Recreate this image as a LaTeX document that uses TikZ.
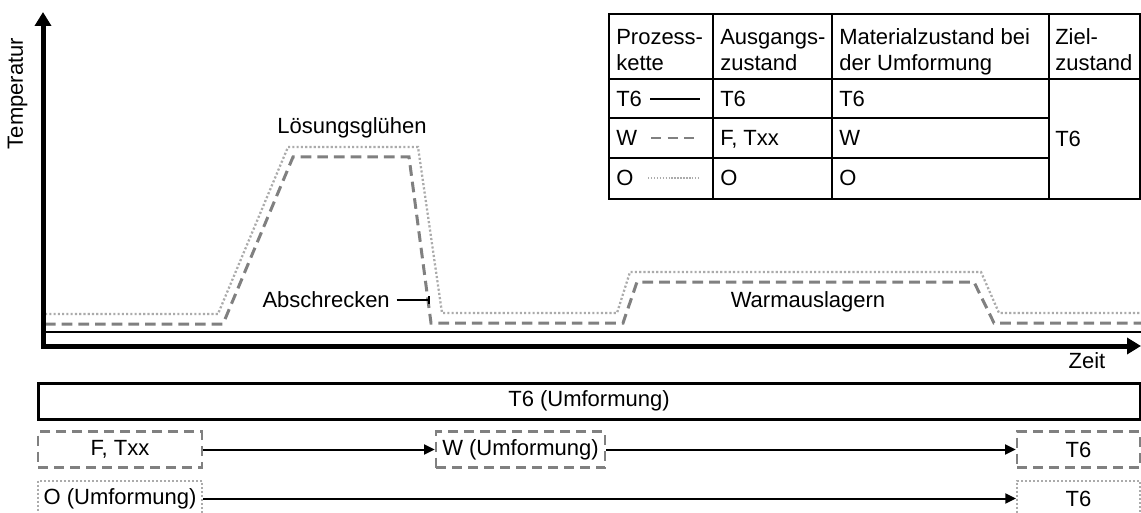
\documentclass[tikz,border=0pt]{standalone}
\usepackage{fontspec}
\setmainfont{Liberation Sans}
\usetikzlibrary{arrows.meta}
\definecolor{dgray}{HTML}{808080}
\definecolor{lgray}{HTML}{ABABAB}
\begin{document}
\begin{tikzpicture}[x=0.75pt,y=-0.75pt,
  font=\fontsize{16.5}{19.5}\selectfont,
  wline/.style={dgray, line width=2.25pt, dash pattern=on 8pt off 4.5pt},
  oline/.style={lgray, line width=1.7pt, dash pattern=on 1.6pt off 1.6pt},
  tline/.style={black, line width=2pt},
  axisline/.style={line width=3.75pt,
    {Triangle[length=10.5pt,width=12pt]}-{Triangle[length=10.5pt,width=12pt]}},
  box/.style={draw, inner sep=0pt, minimum height=27pt, align=center},
  tbox/.style={box, line width=2.25pt},
  dbox/.style={box, draw=dgray, text=black, line width=1.9pt, dash pattern=on 7.5pt off 4.5pt},
  obox/.style={box, draw=lgray, text=black, line width=1.5pt, dash pattern=on 1.5pt off 1.5pt},
  arr/.style={line width=1.5pt, -{Triangle[length=8pt,width=7.5pt]}},
  cell/.style={anchor=base west, inner sep=0pt},
  gridline/.style={line width=1.1pt},
  lbl/.style={inner sep=0pt}
]
\useasboundingbox (0,0) rectangle (1141,513);
\clip (0,0) rectangle (1141,513);

% process curves
\draw[tline] (45,332) -- (1141,332);
\draw[wline] (45,324) -- (223,324) -- (293,157) -- (409,157) -- (431,323) -- (623,323)
  -- (637,282) -- (974,282) -- (994,323) -- (1141,323);
\draw[oline] (45,314) -- (218,314) -- (288,147) -- (418,147) -- (442,313) -- (617,313)
  -- (630,272) -- (981,272) -- (999,313) -- (1141,313);

% axes
\draw[axisline] (43,12) -- (43,346) -- (1141,346);
\node[lbl, rotate=90] (temp) at (17.5,93.5) {Temperatur};
\node[lbl] (zeit) at (1087,361) {Zeit};

% curve labels
\node[lbl] (loes) at (352,128) {Lösungsglühen};
\node[lbl, anchor=east] (abs) at (390,300) {Abschrecken};
\coordinate (absend) at (429,300);
\draw[line width=1.1pt] ([xshift=5pt]abs.east) -- (absend);
\draw[line width=1.1pt] ([yshift=3pt]absend) -- ([yshift=-3pt]absend);
\node[lbl] (warm) at (808,302) {Warmauslagern};

% table
\draw[gridline] (609,14) rectangle (1140,199);
\draw[gridline] (713,14) -- (713,199) (832,14) -- (832,199) (1049,14) -- (1049,199);
\draw[gridline] (609,79) -- (1140,79) (609,118) -- (1049,118) (609,158) -- (1049,158);
\node[cell] (h1a) at (616,45) {Prozess-};
\node[cell] (h1b) at (616,71) {kette};
\node[cell] (h2a) at (720,45) {Ausgangs-};
\node[cell] (h2b) at (720,71) {zustand};
\node[cell] (h3a) at (839,45) {Materialzustand bei};
\node[cell] (h3b) at (839,71) {der Umformung};
\node[cell] (h4a) at (1055,45) {Ziel-};
\node[cell] (h4b) at (1055,71) {zustand};
\node[cell] (r1a) at (616,107) {T6};
\node[cell] (r1b) at (720,107) {T6};
\node[cell] (r1c) at (839,107) {T6};
\node[cell] (r2a) at (616,146) {W};
\node[cell] (r2b) at (720,146) {F, Txx};
\node[cell] (r2c) at (839,146) {W};
\node[cell] (r3a) at (616,186) {O};
\node[cell] (r3b) at (720,186) {O};
\node[cell] (r3c) at (839,186) {O};
\node[cell] (ziel) at (1055,147) {T6};
\draw[tline] (650,99) -- (700,99);
\draw[dgray, line width=1.5pt, dash pattern=on 7.5pt off 5pt] (651,138) -- (700,138);
\draw[lgray, line width=1.1pt, dash pattern=on 1.1pt off 1.1pt] (648,178) -- (700,178);

% lower boxes
\node[tbox, minimum width=826.5pt] (t6u) at (589,401) {T6 (Umformung)};
\node[dbox, minimum width=123pt] (ftxx) at (120,449.5) {F, Txx};
\node[dbox, minimum width=126.75pt] (wu) at (520.5,449.5) {W (Umformung)};
\node[dbox, minimum width=92.25pt] (t6a) at (1078.5,449.5) {T6};
\node[obox, minimum width=123pt] (ou) at (120,498.5) {O (Umformung)};
\node[obox, minimum width=92.25pt] (t6b) at (1078.5,498.5) {T6};
\draw[arr] (ftxx.east) -- (wu.west);
\draw[arr] (wu.east) -- (t6a.west);
\draw[arr] (ou.east) -- (t6b.west);
\end{tikzpicture}
\end{document}
